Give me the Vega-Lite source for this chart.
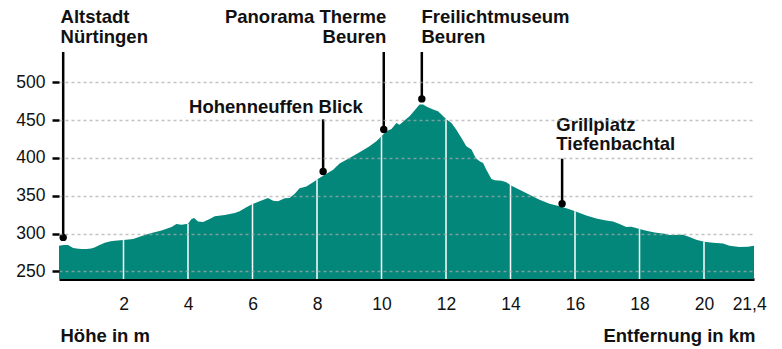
{
  "$schema": "https://vega.github.io/schema/vega-lite/v6.json",
  "autosize": {"type": "none"},
  "padding": {"left": 59, "top": 52, "right": 28, "bottom": 70},
  "width": 695,
  "height": 227,
  "background": "white",
  "config": {
    "view": {"stroke": null},
    "font": "Liberation Sans",
    "axis": {"labelFont": "Liberation Sans", "titleFont": "Liberation Sans"}
  },
  "datasets": {
    "profil": [
      {"km": 0, "hoehe": 284}, {"km": 0.15, "hoehe": 285}, {"km": 0.28, "hoehe": 285},
      {"km": 0.44, "hoehe": 281}, {"km": 0.6, "hoehe": 280}, {"km": 0.7, "hoehe": 279.6},
      {"km": 0.85, "hoehe": 279.5}, {"km": 1.0, "hoehe": 280.4}, {"km": 1.1, "hoehe": 281.5},
      {"km": 1.21, "hoehe": 284}, {"km": 1.42, "hoehe": 288}, {"km": 1.6, "hoehe": 290},
      {"km": 1.73, "hoehe": 290.6}, {"km": 2, "hoehe": 291.5}, {"km": 2.3, "hoehe": 293},
      {"km": 2.61, "hoehe": 297.6}, {"km": 2.87, "hoehe": 300.8}, {"km": 3.18, "hoehe": 304},
      {"km": 3.49, "hoehe": 308.7}, {"km": 3.64, "hoehe": 312.7}, {"km": 3.8, "hoehe": 311.8},
      {"km": 3.95, "hoehe": 312.7}, {"km": 4, "hoehe": 313}, {"km": 4.11, "hoehe": 319.3},
      {"km": 4.19, "hoehe": 320.6}, {"km": 4.31, "hoehe": 316}, {"km": 4.47, "hoehe": 315.3},
      {"km": 4.67, "hoehe": 319.3}, {"km": 4.83, "hoehe": 322.8}, {"km": 5.14, "hoehe": 324.6},
      {"km": 5.45, "hoehe": 327.2}, {"km": 5.6, "hoehe": 329.5}, {"km": 5.81, "hoehe": 334.7},
      {"km": 6, "hoehe": 339}, {"km": 6.22, "hoehe": 342.6}, {"km": 6.48, "hoehe": 347},
      {"km": 6.64, "hoehe": 343.5}, {"km": 6.79, "hoehe": 342.6}, {"km": 7.0, "hoehe": 346.6},
      {"km": 7.15, "hoehe": 347}, {"km": 7.31, "hoehe": 352.8}, {"km": 7.46, "hoehe": 359.8},
      {"km": 7.67, "hoehe": 362.4}, {"km": 7.88, "hoehe": 367.7}, {"km": 8, "hoehe": 371.5},
      {"km": 8.19, "hoehe": 376.6}, {"km": 8.5, "hoehe": 384.5}, {"km": 8.7, "hoehe": 392.5},
      {"km": 9.01, "hoehe": 400}, {"km": 9.32, "hoehe": 407.4}, {"km": 9.63, "hoehe": 415.3},
      {"km": 9.84, "hoehe": 422}, {"km": 10, "hoehe": 428.6}, {"km": 10.15, "hoehe": 435.2},
      {"km": 10.31, "hoehe": 438.4}, {"km": 10.46, "hoehe": 446.3}, {"km": 10.56, "hoehe": 444},
      {"km": 10.72, "hoehe": 449.7}, {"km": 10.87, "hoehe": 455}, {"km": 11.03, "hoehe": 463},
      {"km": 11.18, "hoehe": 470.5}, {"km": 11.29, "hoehe": 470.5}, {"km": 11.39, "hoehe": 468},
      {"km": 11.6, "hoehe": 463.9}, {"km": 11.75, "hoehe": 461.6}, {"km": 11.86, "hoehe": 457.3},
      {"km": 12, "hoehe": 451.5}, {"km": 12.17, "hoehe": 446.3}, {"km": 12.32, "hoehe": 437.4},
      {"km": 12.48, "hoehe": 426.5}, {"km": 12.63, "hoehe": 415.3}, {"km": 12.79, "hoehe": 411},
      {"km": 12.92, "hoehe": 400}, {"km": 13.04, "hoehe": 395.5}, {"km": 13.15, "hoehe": 393.4},
      {"km": 13.25, "hoehe": 384.5}, {"km": 13.41, "hoehe": 372.2}, {"km": 13.51, "hoehe": 370.4},
      {"km": 13.72, "hoehe": 370}, {"km": 13.87, "hoehe": 367.7}, {"km": 14, "hoehe": 364},
      {"km": 14.28, "hoehe": 358}, {"km": 14.59, "hoehe": 351.5}, {"km": 14.9, "hoehe": 344.8},
      {"km": 15.21, "hoehe": 339.5}, {"km": 15.52, "hoehe": 336}, {"km": 15.78, "hoehe": 333},
      {"km": 16, "hoehe": 329.5}, {"km": 16.35, "hoehe": 324}, {"km": 16.66, "hoehe": 320},
      {"km": 16.92, "hoehe": 317.5}, {"km": 17.18, "hoehe": 316}, {"km": 17.38, "hoehe": 312.7},
      {"km": 17.59, "hoehe": 308.7}, {"km": 17.75, "hoehe": 309.1}, {"km": 18, "hoehe": 306},
      {"km": 18.21, "hoehe": 303.8}, {"km": 18.47, "hoehe": 301.6}, {"km": 18.83, "hoehe": 299.5},
      {"km": 18.93, "hoehe": 298}, {"km": 19.35, "hoehe": 298.5}, {"km": 19.55, "hoehe": 295.5},
      {"km": 19.76, "hoehe": 292}, {"km": 20, "hoehe": 289.3}, {"km": 20.28, "hoehe": 288},
      {"km": 20.59, "hoehe": 287}, {"km": 20.79, "hoehe": 284}, {"km": 21.1, "hoehe": 282.3},
      {"km": 21.36, "hoehe": 282.7}, {"km": 21.55, "hoehe": 284}
    ],
    "orte": [
      {"ort": ["Altstadt", "Nürtingen"], "km": 0.13, "hoehe": 295, "oben": 540, "text_km": 0.05, "text_hoehe": 578, "seite": "links"},
      {"ort": ["Hohenneuffen Blick"], "km": 8.19, "hoehe": 382, "oben": 451, "text_km": 9.42, "text_hoehe": 459, "seite": "rechts"},
      {"ort": ["Panorama Therme", "Beuren"], "km": 10.07, "hoehe": 437.5, "oben": 540, "text_km": 10.15, "text_hoehe": 578, "seite": "rechts"},
      {"ort": ["Freilichtmuseum", "Beuren"], "km": 11.25, "hoehe": 478, "oben": 540, "text_km": 11.24, "text_hoehe": 578, "seite": "links"},
      {"ort": ["Grillplatz", "Tiefenbachtal"], "km": 15.6, "hoehe": 339.5, "oben": 399, "text_km": 15.42, "text_hoehe": 436, "seite": "links"}
    ]
  },
  "layer": [
    {
      "data": {"name": "profil"},
      "mark": {"type": "area", "color": "#03877a", "interpolate": "linear"},
      "encoding": {
        "x": {
          "field": "km", "type": "quantitative",
          "scale": {"domain": [0, 21.55], "nice": false, "zero": false},
          "axis": {
            "values": [2, 4, 6, 8, 10, 12, 14, 16, 18, 20, 21.4],
            "labelExpr": "replace(format(datum.value, '~g'), '.', ',')",
            "labelFontSize": 17.5, "labelColor": "#111111", "labelPadding": 16,
            "ticks": false, "grid": false,
            "domain": true, "domainColor": "#000000", "domainWidth": 3,
            "title": "Entfernung in km", "titleFontSize": 18.5, "titleFontWeight": "bold",
            "titleColor": "#111111", "titleAnchor": "end", "titleAlign": "right",
            "titleBaseline": "alphabetic", "titleX": 696, "titleY": 62
          }
        },
        "y": {
          "field": "hoehe", "type": "quantitative",
          "scale": {"domain": [240, 540], "nice": false, "zero": false},
          "axis": {
            "values": [250, 300, 350, 400, 450, 500],
            "labelFontSize": 17.5, "labelColor": "#111111", "labelPadding": 7,
            "ticks": true, "tickSize": 7, "tickWidth": 2.5, "tickColor": "#000000",
            "domain": false,
            "grid": true, "gridColor": "#ababab", "gridOpacity": 0.7,
            "gridDash": [3, 3], "gridWidth": 1.3,
            "zindex": 1,
            "title": "Höhe in m", "titleFontSize": 18.5, "titleFontWeight": "bold",
            "titleColor": "#111111", "titleAngle": 0, "titleAlign": "left",
            "titleBaseline": "alphabetic", "titleX": 1, "titleY": 289
          }
        },
        "y2": {"datum": 240}
      }
    },
    {
      "data": {"name": "profil"},
      "transform": [{"filter": "datum.km % 2 == 0 && datum.km > 0 && datum.km < 21"}],
      "mark": {"type": "rule", "color": "white", "strokeWidth": 1.5},
      "encoding": {
        "x": {"field": "km", "type": "quantitative"},
        "y": {"field": "hoehe", "type": "quantitative"},
        "y2": {"datum": 240}
      }
    },
    {
      "data": {"name": "orte"},
      "mark": {"type": "rule", "color": "#000000", "strokeWidth": 2.5},
      "encoding": {
        "x": {"field": "km", "type": "quantitative"},
        "y": {"field": "hoehe", "type": "quantitative"},
        "y2": {"field": "oben"}
      }
    },
    {
      "data": {"name": "orte"},
      "mark": {"type": "point", "filled": true, "color": "#000000", "opacity": 1, "size": 55},
      "encoding": {
        "x": {"field": "km", "type": "quantitative"},
        "y": {"field": "hoehe", "type": "quantitative"}
      }
    },
    {
      "data": {"name": "orte"},
      "transform": [{"filter": "datum.seite == 'links'"}],
      "mark": {"type": "text", "align": "left", "baseline": "alphabetic", "fontSize": 18.5, "fontWeight": "bold", "lineHeight": 19.5, "color": "#111111"},
      "encoding": {
        "x": {"field": "text_km", "type": "quantitative"},
        "y": {"field": "text_hoehe", "type": "quantitative"},
        "text": {"field": "ort"}
      }
    },
    {
      "data": {"name": "orte"},
      "transform": [{"filter": "datum.seite == 'rechts'"}],
      "mark": {"type": "text", "align": "right", "baseline": "alphabetic", "fontSize": 18.5, "fontWeight": "bold", "lineHeight": 19.5, "color": "#111111"},
      "encoding": {
        "x": {"field": "text_km", "type": "quantitative"},
        "y": {"field": "text_hoehe", "type": "quantitative"},
        "text": {"field": "ort"}
      }
    }
  ]
}
